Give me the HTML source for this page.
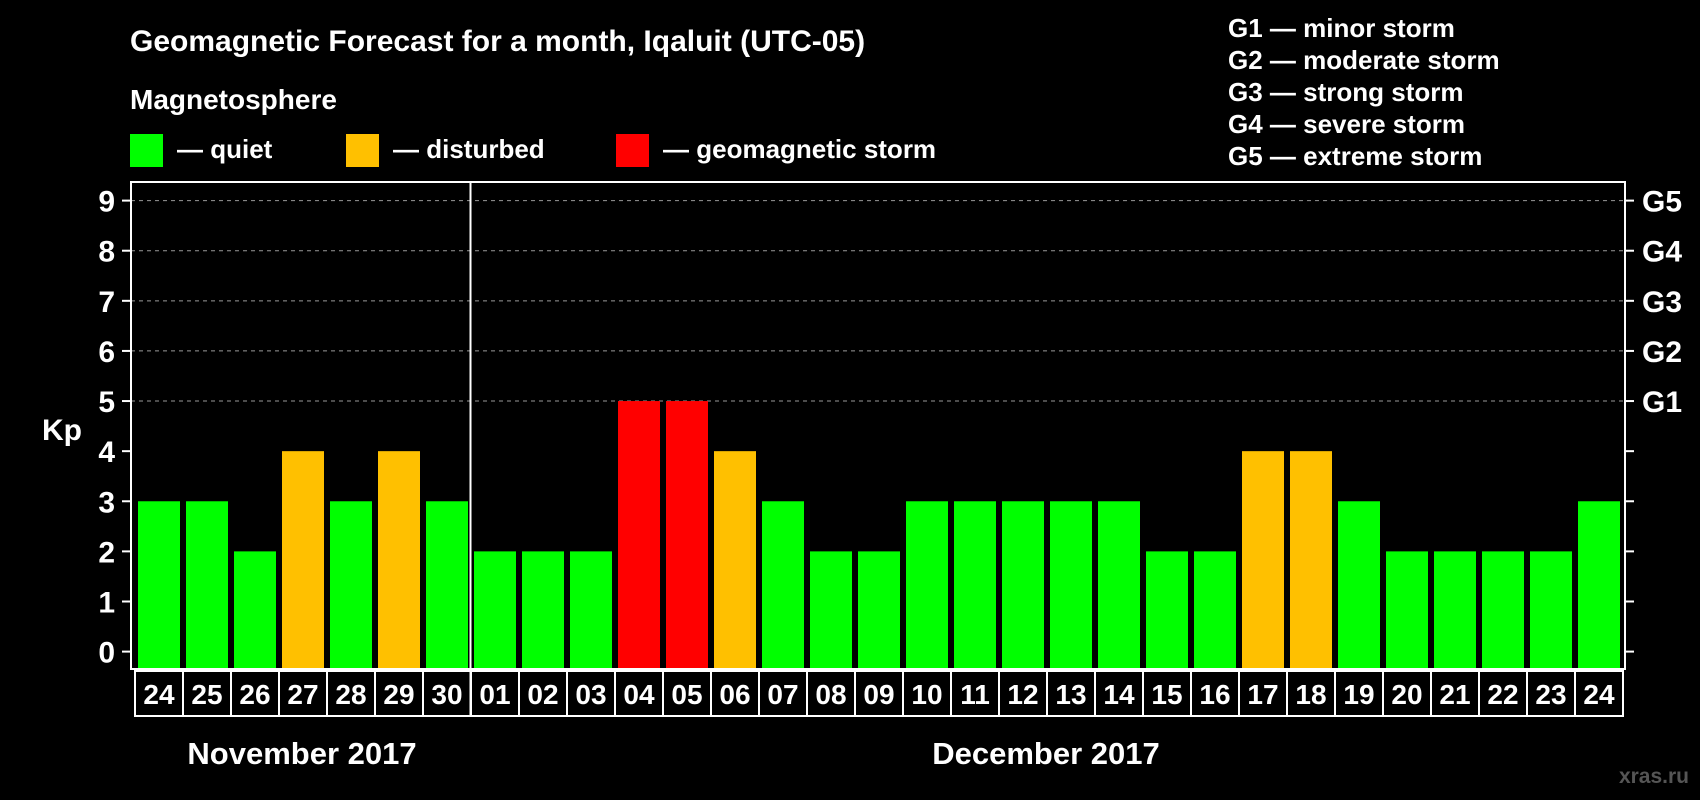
<!DOCTYPE html>
<html><head><meta charset="utf-8"><style>
body{margin:0;background:#000;width:1700px;height:800px;overflow:hidden}
svg{display:block;font-family:"Liberation Sans",sans-serif;font-weight:bold}
</style></head><body>
<svg id="c" width="1700" height="800">
<text x="130" y="51" fill="#fff" font-size="30">Geomagnetic Forecast for a month, Iqaluit (UTC-05)</text>
<text x="130" y="109" fill="#fff" font-size="28">Magnetosphere</text>
<rect x="130" y="134" width="33" height="33" fill="#00ff00"/>
<text x="177" y="158" fill="#fff" font-size="26">— quiet</text>
<rect x="346" y="134" width="33" height="33" fill="#ffc000"/>
<text x="393" y="158" fill="#fff" font-size="26">— disturbed</text>
<rect x="616" y="134" width="33" height="33" fill="#ff0000"/>
<text x="663" y="158" fill="#fff" font-size="26">— geomagnetic storm</text>
<g fill="#fff" font-size="26">
<text x="1228" y="37">G1 — minor storm</text>
<text x="1228" y="69">G2 — moderate storm</text>
<text x="1228" y="101">G3 — strong storm</text>
<text x="1228" y="133">G4 — severe storm</text>
<text x="1228" y="165">G5 — extreme storm</text>
</g>
<text x="42" y="440" fill="#fff" font-size="30">Kp</text>
<text x="302" y="764" fill="#fff" font-size="31" text-anchor="middle">November 2017</text>
<text x="1046" y="764" fill="#fff" font-size="31" text-anchor="middle">December 2017</text>
<text x="1689" y="783" fill="#555" font-size="21" text-anchor="end">xras.ru</text>
<g id="plot"></g>
</svg>
<script>
const days=["24","25","26","27","28","29","30","01","02","03","04","05","06","07","08","09","10","11","12","13","14","15","16","17","18","19","20","21","22","23","24"];
const kp=[3,3,2,4,3,4,3,2,2,2,5,5,4,3,2,2,3,3,3,3,3,2,2,4,4,3,2,2,2,2,3];
const yTicks=[0,1,2,3,4,5,6,7,8,9];
const gLabels=["G1","G2","G3","G4","G5"];
const NS="http://www.w3.org/2000/svg";
const g=document.getElementById('plot');
const L=131,R=1625,T=182,B=669,Y0=651.6,UNIT=(651.6-200.6)/9,STEP=48,X0=138,BW=42;
const y=v=>Y0-v*UNIT;
const x=i=>X0+i*STEP;
function mk(t,a){const e=document.createElementNS(NS,t);for(const k in a)e.setAttribute(k,a[k]);g.appendChild(e);return e;}
yTicks.forEach(v=>{
 if(v>=5){const l=mk('line',{x1:L,x2:R,y1:y(v),y2:y(v),stroke:'#999','stroke-dasharray':'4 4','stroke-width':1});
 
 }
 const t1=mk('line',{x1:L-9,x2:L,y1:y(v),y2:y(v),stroke:'#fff','stroke-width':2});
 
 
 const t2=mk('line',{x1:R,x2:R+9,y1:y(v),y2:y(v),stroke:'#fff','stroke-width':2});
 
 
 const tx=mk('text',{x:115,y:y(v)+11,fill:'#fff','font-size':30,'text-anchor':'end'});tx.textContent=v;
 
 
});
gLabels.forEach((s,i)=>{const tx=mk('text',{x:1642,y:y(5+i)+11,fill:'#fff','font-size':30});tx.textContent=s;
 
 });
kp.forEach((v,i)=>{
 const c=v>=5?'#ff0000':v==4?'#ffc000':'#00ff00';
 const r=mk('rect',{x:x(i),y:y(v),width:BW,height:B-y(v),fill:c});
 
 
 const bx=mk('rect',{x:135+i*STEP,y:B+2,width:STEP,height:45,fill:'none',stroke:'#fff','stroke-width':2});
 
 
 const tx=mk('text',{x:135+i*STEP+STEP/2,y:B+35,fill:'#fff','font-size':28,'text-anchor':'middle'});tx.textContent=days[i];
 
 
});
const fr=mk('rect',{x:L,y:T,width:R-L,height:B-T,fill:'none',stroke:'#fff','stroke-width':2});


const sep=mk('line',{x1:470.5,x2:470.5,y1:T,y2:B+47,stroke:'#fff','stroke-width':2});


</script>
</body></html>
